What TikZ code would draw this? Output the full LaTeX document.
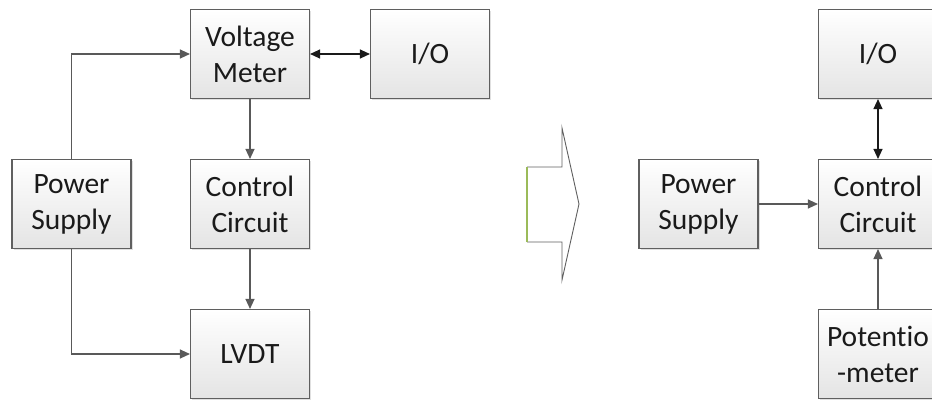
\documentclass[tikz,border=0pt]{standalone}
\usepackage{fontspec}
\setmainfont{Carlito}[Ligatures=NoCommon]
\usetikzlibrary{arrows.meta,positioning,shadows}
\definecolor{edge}{HTML}{5F5F5F}
\definecolor{wire}{HTML}{595959}
\definecolor{dark}{HTML}{1A1A1A}
\definecolor{olive}{HTML}{9BBB59}
\definecolor{shade}{HTML}{E4E4E4}
\tikzset{
  block/.style={draw=edge, line width=1.1pt, top color=white, bottom color=shade,
    minimum width=119pt, minimum height=89pt, align=center, inner sep=0pt,
    font=\fontsize{29.5}{36}\selectfont, text=dark,
    drop shadow={shadow xshift=1.5pt, shadow yshift=-1.5pt, fill=black, opacity=.12}},
  flow/.style={-{Triangle[length=10pt,width=9pt]}, draw=wire, line width=1.2pt},
  both/.style={{Triangle[length=10pt,width=9pt]}-{Triangle[length=10pt,width=9pt]},
    draw=dark, line width=1.2pt}
}

\begin{document}
\begin{tikzpicture}[x=1pt,y=-1pt]
  \path[use as bounding box, clip] (0,0) rectangle (932,400);

  % before
  \node[block] (vm) at (250,54) {Voltage\\Meter};
  \node[block] (iol) at (430,54) {I/O};
  \node[block] (psl) at (71.5,204) {Power\\Supply};
  \node[block] (ccl) at (250,204) {Control\\Circuit};
  \node[block] (lvdt) at (250,354) {LVDT};

  \draw[flow] (psl.north) |- (vm.west);
  \draw[flow] (psl.south) |- (lvdt.west);
  \draw[both] (vm.east) -- (iol.west);
  \draw[flow] (vm.south) -- (ccl.north);
  \draw[flow] (ccl.south) -- (lvdt.north);

  % block arrow
  \filldraw[fill=white, draw=edge, line width=.9pt, line join=miter]
    (527,167) -- (562,167) -- (562,128) -- (579,204) -- (562,280) -- (562,242) -- (527,242);
  \draw[olive, line width=1.2pt] (527,242) -- (527,167);

  % after
  \node[block] (psr) at (698.5,204) {Power\\Supply};
  \node[block] (ccr) at (878,204) {Control\\Circuit};
  \node[block] (ior) at (878,54) {I/O};
  \node[block] (pot) at (878,354) {Potentio\\-meter};

  \draw[flow] (psr.east) -- (ccr.west);
  \draw[both] (ccr.north) -- (ior.south);
  \draw[flow] (pot.north) -- (ccr.south);
\end{tikzpicture}
\end{document}
